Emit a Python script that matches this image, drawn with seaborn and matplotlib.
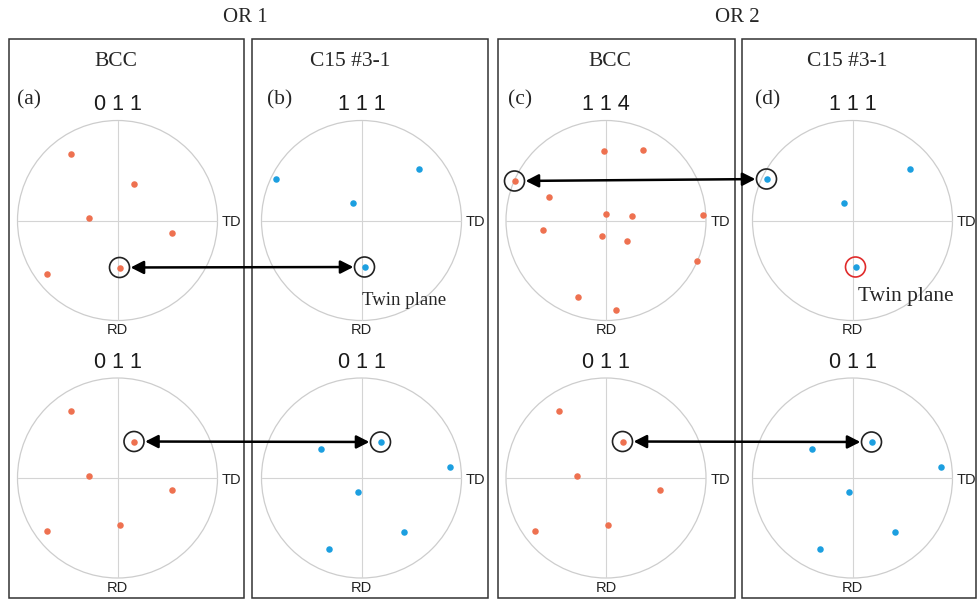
import matplotlib
matplotlib.use("Agg")
import matplotlib.pyplot as plt
import seaborn as sns
from matplotlib.patches import Circle, Rectangle, ConnectionPatch

# ---- pole positions (stereographic, unit circle; +x = TD, -y = RD) ----
# BCC {011}
bcc011_x = [-0.47, 0.165, -0.29, 0.54, -0.71, 0.02]
bcc011_y = [0.67, 0.365, 0.025, -0.12, -0.53, -0.47]
# BCC {114}
bcc114_x = [-0.02, 0.37, -0.915, -0.57, 0.0, 0.26, 0.97, -0.63, -0.04, 0.21, 0.91, -0.28, 0.10]
bcc114_y = [0.70, 0.71, 0.395, 0.24, 0.07, 0.05, 0.06, -0.09, -0.15, -0.20, -0.405, -0.76, -0.89]
# C15 #3-1 {111}
c15_111_x = [-0.86, 0.57, -0.09, 0.03]
c15_111_y = [0.415, 0.52, 0.175, -0.465]
# C15 #3-1 {011}
c15_011_x = [-0.41, 0.19, 0.885, -0.04, 0.42, -0.33]
c15_011_y = [0.295, 0.36, 0.115, -0.135, -0.54, -0.705]

group_titles = ["OR 1", "OR 2"]
phase_titles = ["BCC", "C15 #3-1", "BCC", "C15 #3-1"]
panel_tags = ["(a)", "(b)", "(c)", "(d)"]
top_indices = ["0 1 1", "1 1 1", "1 1 4", "1 1 1"]
bottom_indices = ["0 1 1", "0 1 1", "0 1 1", "0 1 1"]

BCC_COLOR = "#ee7150"
C15_COLOR = "#1c9fe0"

sns.set_style("white")
plt.rcParams["font.family"] = ["Liberation Sans", "DejaVu Sans"]
SERIF = ["Liberation Serif", "DejaVu Serif"]
SANS = ["Liberation Sans", "DejaVu Sans"]

W, H = 977, 601
fig = plt.figure(figsize=(W / 100, H / 100), dpi=100)

# canvas in pixel units for frames and headings
bg = fig.add_axes([0, 0, 1, 1])
bg.set_xlim(0, W)
bg.set_ylim(H, 0)
bg.axis("off")

frames = [(9, 244), (252, 488), (498, 735), (742, 976)]
for x0, x1 in frames:
    bg.add_patch(Rectangle((x0, 38.5), x1 - x0, 559.5, fill=False,
                           ec="#333333", lw=1.1))

bg.text(245, 18, group_titles[0], ha="center", va="center", fontsize=15, family=SERIF)
bg.text(737, 18, group_titles[1], ha="center", va="center", fontsize=15, family=SERIF)

title_x = [116, 350, 610, 847]
tag_x = [17, 267, 508, 755]
for i in range(4):
    bg.text(title_x[i], 62, phase_titles[i], ha="center", va="center",
            fontsize=15.5, family=SERIF)
    bg.text(tag_x[i], 100, panel_tags[i], ha="left", va="center",
            fontsize=15.5, family=SERIF)


def pole_axes(cx, cy, hkl, r=100):
    ax = fig.add_axes([(cx - r) / W, 1 - (cy + r) / H, 2 * r / W, 2 * r / H])
    ax.set_xlim(-1, 1)
    ax.set_ylim(-1, 1)
    ax.axis("off")
    ax.add_patch(Circle((0, 0), 1, fill=False, ec="#cdcdcd", lw=0.9,
                        clip_on=False, zorder=1))
    ax.plot([-1, 1], [0, 0], color="#d4d4d4", lw=0.8, zorder=1)
    ax.plot([0, 0], [-1, 1], color="#d4d4d4", lw=0.8, zorder=1)
    ax.text(0, 1.155, hkl, ha="center", va="center", fontsize=15.5, family=SANS,
            color="#1a1a1a")
    ax.text(1.045, -0.02, "TD", ha="left", va="center", fontsize=10.5, family=SANS,
            color="#222222")
    ax.text(0, -1.10, "RD", ha="center", va="center", fontsize=10.5, family=SANS,
            color="#222222")
    return ax


def poles(ax, xs, ys, color):
    sns.scatterplot(x=xs, y=ys, ax=ax, color=color, s=22, linewidth=0,
                    legend=False, clip_on=False, zorder=3)
    ax.set_xlabel("")
    ax.set_ylabel("")
    ax.set_xlim(-1, 1)
    ax.set_ylim(-1, 1)


def ring(ax, xs, ys, k, color="#222222"):
    ax.add_patch(Circle((xs[k], ys[k]), 0.1, fill=False, ec=color, lw=1.2,
                        clip_on=False, zorder=4))


def link(axA, xsA, ysA, kA, axB, xsB, ysB, kB):
    con = ConnectionPatch(xyA=(xsA[kA], ysA[kA]), coordsA=axA.transData,
                          xyB=(xsB[kB], ysB[kB]), coordsB=axB.transData,
                          arrowstyle="<|-|>,head_length=0.55,head_width=0.28",
                          mutation_scale=14, lw=1.8, color="black",
                          shrinkA=8, shrinkB=8)
    fig.add_artist(con)


cx = [117.5, 361.5, 606, 852.5]
y_top, y_bot = 220.5, 478

# top row
ax_a = pole_axes(cx[0], y_top, top_indices[0])
poles(ax_a, bcc011_x, bcc011_y, BCC_COLOR)
ring(ax_a, bcc011_x, bcc011_y, 5)

ax_b = pole_axes(cx[1], y_top, top_indices[1])
poles(ax_b, c15_111_x, c15_111_y, C15_COLOR)
ring(ax_b, c15_111_x, c15_111_y, 3)
ax_b.text(0.0, -0.80, "Twin plane", ha="left", va="center", fontsize=13.5,
          family=SERIF)

ax_c = pole_axes(cx[2], y_top, top_indices[2])
poles(ax_c, bcc114_x, bcc114_y, BCC_COLOR)
ring(ax_c, bcc114_x, bcc114_y, 2)

ax_d = pole_axes(cx[3], y_top, top_indices[3])
poles(ax_d, c15_111_x, c15_111_y, C15_COLOR)
ring(ax_d, c15_111_x, c15_111_y, 0)
ring(ax_d, c15_111_x, c15_111_y, 3, color="#e02b2b")
ax_d.text(0.05, -0.76, "Twin plane", ha="left", va="center", fontsize=15.5,
          family=SERIF)

# bottom row
ax_e = pole_axes(cx[0], y_bot, bottom_indices[0])
poles(ax_e, bcc011_x, bcc011_y, BCC_COLOR)
ring(ax_e, bcc011_x, bcc011_y, 1)

ax_f = pole_axes(cx[1], y_bot, bottom_indices[1])
poles(ax_f, c15_011_x, c15_011_y, C15_COLOR)
ring(ax_f, c15_011_x, c15_011_y, 1)

ax_g = pole_axes(cx[2], y_bot, bottom_indices[2])
poles(ax_g, bcc011_x, bcc011_y, BCC_COLOR)
ring(ax_g, bcc011_x, bcc011_y, 1)

ax_h = pole_axes(cx[3], y_bot, bottom_indices[3])
poles(ax_h, c15_011_x, c15_011_y, C15_COLOR)
ring(ax_h, c15_011_x, c15_011_y, 1)

# parallel planes across the two phases
link(ax_a, bcc011_x, bcc011_y, 5, ax_b, c15_111_x, c15_111_y, 3)
link(ax_c, bcc114_x, bcc114_y, 2, ax_d, c15_111_x, c15_111_y, 0)
link(ax_e, bcc011_x, bcc011_y, 1, ax_f, c15_011_x, c15_011_y, 1)
link(ax_g, bcc011_x, bcc011_y, 1, ax_h, c15_011_x, c15_011_y, 1)

fig.savefig("out.png", dpi=100, facecolor="white")
